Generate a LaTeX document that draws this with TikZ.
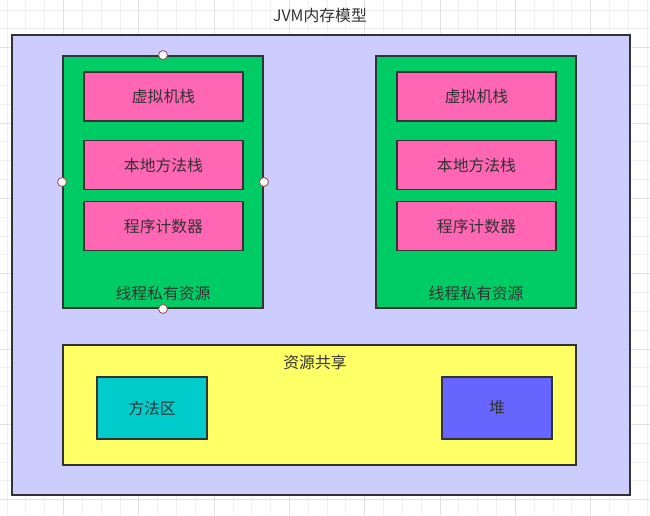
\documentclass[tikz,border=0pt]{standalone}
\usepackage{fontspec}
\setmainfont{Noto Sans CJK SC}
\usepackage{xcolor}
\usepackage{tikz}
\usetikzlibrary{positioning}

\definecolor{gridminor}{HTML}{F0F0F0}
\definecolor{gridmajor}{HTML}{E2E2E2}
\definecolor{linegray}{HTML}{333333}
\definecolor{outerfill}{HTML}{CCCCFF}
\definecolor{threadfill}{HTML}{00CC66}
\definecolor{stackfill}{HTML}{FF66B3}
\definecolor{sharefill}{HTML}{FFFF66}
\definecolor{methodfill}{HTML}{00CCCC}
\definecolor{heapfill}{HTML}{6666FF}
\definecolor{handleline}{HTML}{A05050}

\tikzset{
  box/.style={draw=linegray, line width=1.1pt, text=linegray, inner sep=0pt},
  stackbox/.style={box, fill=stackfill, minimum width=3.18cm, minimum height=0.98cm},
  threadbox/.style={box, fill=threadfill, minimum width=4cm, minimum height=5.04cm},
  areabox/.style={box, minimum width=2.2cm, minimum height=1.24cm},
  handle/.style={circle, draw=handleline, fill=white, line width=0.5pt, minimum size=0.18cm, inner sep=0pt},
  txt/.style={text=linegray, inner sep=0pt}
}

\begin{document}
\begin{tikzpicture}[x=0.02cm, y=-0.02cm, font=\fontsize{9}{11}\selectfont]
\useasboundingbox (0,0) rectangle (650,515);
\fill[white] (0,0) rectangle (650,515);
% background grid
\foreach \i in {0,...,34} {
  \pgfmathsetmacro{\gx}{6.9+18.83*\i}
  \draw[gridminor, line width=0.4pt] (\gx,0) -- (\gx,515);
}
\foreach \i in {0,...,27} {
  \pgfmathsetmacro{\gy}{10.0+18.83*\i}
  \draw[gridminor, line width=0.4pt] (0,\gy) -- (650,\gy);
}
\foreach \i in {0,...,8} {
  \pgfmathsetmacro{\gx}{63.4+75.32*\i}
  \draw[gridmajor, line width=0.5pt] (\gx,0) -- (\gx,515);
}
\foreach \i in {0,...,6} {
  \pgfmathsetmacro{\gy}{47.7+75.32*\i}
  \draw[gridmajor, line width=0.5pt] (0,\gy) -- (650,\gy);
}

% title and outer frame
\node[txt] (title) at (320,15) {JVM内存模型};
\node[box, fill=outerfill, minimum width=12.36cm, minimum height=9.2cm] (jvm) at (321,265) {};

% thread private areas
\node[threadbox] (threadA) at (163,182) {};
\node[stackbox] (vmA) at (163.5,96.5) {虚拟机栈};
\node[stackbox] (nativeA) at (163.5,165) {本地方法栈};
\node[stackbox] (pcA) at (163.5,226) {程序计数器};
\node[txt] (privA) at (163,293) {线程私有资源};

\node[threadbox] (threadB) at (476,182) {};
\node[stackbox] (vmB) at (476.5,96.5) {虚拟机栈};
\node[stackbox] (nativeB) at (476.5,165) {本地方法栈};
\node[stackbox] (pcB) at (476.5,226) {程序计数器};
\node[txt] (privB) at (476,293) {线程私有资源};

% shared area
\node[box, fill=sharefill, minimum width=10.26cm, minimum height=2.4cm] (share) at (319.5,405) {};
\node[txt] (shareLabel) at (315,362) {资源共享};
\node[areabox, fill=methodfill] (method) at (152,408) {方法区};
\node[areabox, fill=heapfill] (heap) at (497,408) {堆};

% selection handles
\node[handle] (hN) at (threadA.north) {};
\node[handle] (hW) at (threadA.west) {};
\node[handle] (hE) at (threadA.east) {};
\node[handle] (hS) at (threadA.south) {};
\end{tikzpicture}
\end{document}
